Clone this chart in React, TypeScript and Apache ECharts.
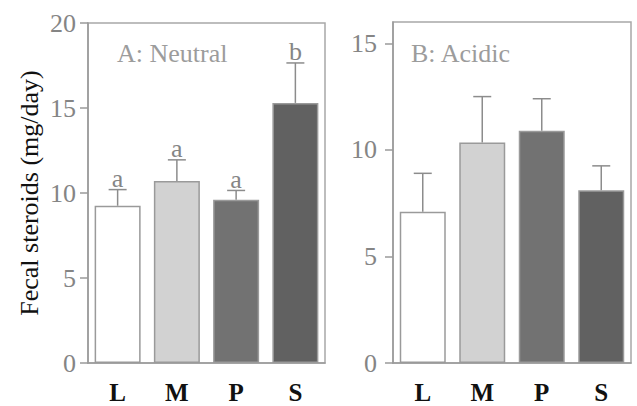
import React, { useEffect, useRef } from "react";
import * as echarts from "echarts";

const categories = ["L", "M", "P", "S"];
const neutralMean = [9.25, 10.7, 9.6, 15.3];
const neutralUpper = [10.2, 11.95, 10.15, 17.65];
const neutralLetters = ["a", "a", "a", "b"];
const acidicMean = [7.1, 10.35, 10.9, 8.1];
const acidicUpper = [8.9, 12.5, 12.4, 9.25];
const neutralTicks = [0, 5, 10, 15, 20];
const acidicTicks = [0, 5, 10, 15];
const panelTitles = ["A: Neutral", "B: Acidic"];

const barColors = ["#ffffff", "#d2d2d2", "#727272", "#616161"];
const SERIF = "'Liberation Serif', 'DejaVu Serif', serif";

export default function App() {
  const ref = useRef<HTMLDivElement>(null);
  useEffect(() => {
    if (!ref.current) return;
    const chart = echarts.init(ref.current, null, { renderer: "svg" });

    const barData = (vals: number[]) =>
      vals.map((v, i) => ({
        value: v,
        itemStyle: { color: barColors[i], borderColor: "#9a9a9a", borderWidth: 1.5 },
      }));

    const errRender = (letters: string[] | null) => (params: any, api: any) => {
      const base = api.coord([api.value(0), api.value(1)]);
      const top = api.coord([api.value(0), api.value(2)]);
      const x = base[0];
      const children: any[] = [
        {
          type: "line",
          shape: { x1: x, y1: base[1], x2: x, y2: top[1] },
          style: { stroke: "#8c8c8c", lineWidth: 1.5 },
        },
        {
          type: "line",
          shape: { x1: x - 9, y1: top[1], x2: x + 9, y2: top[1] },
          style: { stroke: "#8c8c8c", lineWidth: 1.5 },
        },
      ];
      if (letters) {
        children.push({
          type: "text",
          x: x,
          y: top[1] + 2,
          style: {
            text: letters[params.dataIndex],
            fill: "#858585",
            font: `26px ${SERIF}`,
            textAlign: "center",
            textVerticalAlign: "bottom",
          },
        });
      }
      return { type: "group", children };
    };

    const axisCommon = {
      axisLine: { show: true, lineStyle: { color: "#9a9a9a", width: 1.5 } },
      splitLine: { show: false },
    };

    const option: any = {
      animation: false,
      backgroundColor: "#ffffff",
      grid: [
        { left: 88, top: 23, width: 237, height: 340, show: true, borderColor: "#a8a8a8", borderWidth: 1.5, backgroundColor: "transparent" },
        { left: 393, top: 22, width: 238, height: 341, show: true, borderColor: "#a8a8a8", borderWidth: 1.5, backgroundColor: "transparent" },
      ],
      xAxis: [0, 1].map((g) => ({
        type: "category",
        gridIndex: g,
        data: categories,
        ...axisCommon,
        axisTick: { show: false },
        axisLabel: { color: "#111", fontFamily: SERIF, fontSize: 25, fontWeight: "bold", margin: 17 },
      })),
      yAxis: [
        {
          type: "value",
          gridIndex: 0,
          min: 0,
          max: 20,
          interval: 5,
          ...axisCommon,
          axisTick: { show: true, length: 8, lineStyle: { color: "#9a9a9a", width: 1.5 }, customValues: neutralTicks },
          axisLabel: { color: "#858585", fontFamily: SERIF, fontSize: 26, margin: 12, customValues: neutralTicks },
          name: "Fecal steroids (mg/day)",
          nameLocation: "middle",
          nameGap: 46,
          nameTextStyle: { color: "#111", fontFamily: SERIF, fontSize: 26 },
        },
        {
          type: "value",
          gridIndex: 1,
          min: 0,
          max: 16,
          interval: 5,
          ...axisCommon,
          axisTick: { show: true, length: 8, lineStyle: { color: "#9a9a9a", width: 1.5 }, customValues: acidicTicks },
          axisLabel: { color: "#858585", fontFamily: SERIF, fontSize: 26, margin: 16, customValues: acidicTicks, formatter: (v: number) => (v > 15 ? "" : String(v)) },
        },
      ],
      series: [
        {
          type: "bar",
          xAxisIndex: 0,
          yAxisIndex: 0,
          data: barData(neutralMean),
          barWidth: 46,
        },
        {
          type: "custom",
          xAxisIndex: 0,
          yAxisIndex: 0,
          data: neutralMean.map((m, i) => [i, m, neutralUpper[i]]),
          renderItem: errRender(neutralLetters),
          z: 5,
        },
        {
          type: "bar",
          xAxisIndex: 1,
          yAxisIndex: 1,
          data: barData(acidicMean),
          barWidth: 46,
        },
        {
          type: "custom",
          xAxisIndex: 1,
          yAxisIndex: 1,
          data: acidicMean.map((m, i) => [i, m, acidicUpper[i]]),
          renderItem: errRender(null),
          z: 5,
        },
      ],
      graphic: [
        { type: "text", left: 117, top: 40, style: { text: panelTitles[0], fill: "#9c9c9c", font: `26px ${SERIF}` } },
        { type: "text", left: 411, top: 40, style: { text: panelTitles[1], fill: "#9c9c9c", font: `26px ${SERIF}` } },
      ],
    };
    chart.setOption(option);
    return () => chart.dispose();
  }, []);
  return <div ref={ref} style={{ width: 637, height: 406, position: "absolute", left: 0, top: 0 }} />;
}
